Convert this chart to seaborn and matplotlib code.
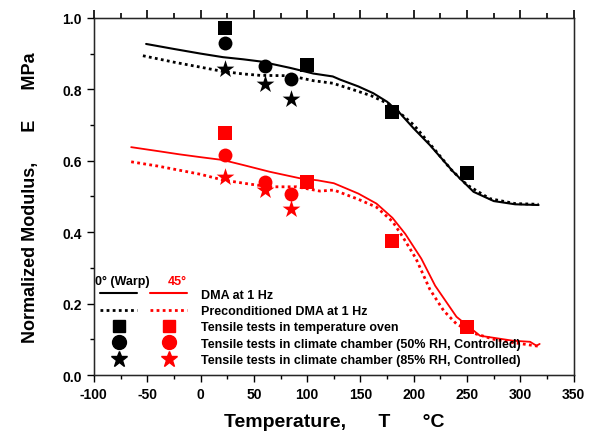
import numpy as np
import pandas as pd
import matplotlib
matplotlib.use("Agg")
import matplotlib.pyplot as plt
import seaborn as sns
from matplotlib.lines import Line2D
from matplotlib.legend_handler import HandlerTuple
from matplotlib.ticker import MultipleLocator

# ---- data ----
warp_dma_T = [-51, -25, 0, 21, 40, 56, 84, 106, 124, 131, 148, 162, 175, 187, 200, 215, 237, 256, 275, 295, 317]
warp_dma_E = [0.927, 0.913, 0.900, 0.890, 0.884, 0.878, 0.860, 0.844, 0.836, 0.827, 0.808, 0.789, 0.765, 0.733,
              0.690, 0.644, 0.569, 0.513, 0.487, 0.478, 0.476]
warp_pre_T = [-54, -25, 0, 21, 40, 56, 84, 106, 124, 144, 160, 178, 200, 221, 235, 250, 271, 295, 317]
warp_pre_E = [0.894, 0.876, 0.862, 0.850, 0.843, 0.839, 0.838, 0.824, 0.817, 0.798, 0.782, 0.757, 0.700,
              0.626, 0.575, 0.532, 0.494, 0.480, 0.478]
d45_dma_T = [-65, -40, -20, 0, 21, 40, 65, 93, 110, 125, 148, 165, 180, 192, 207, 220, 240, 262, 293, 309, 315, 318]
d45_dma_E = [0.638, 0.627, 0.618, 0.610, 0.602, 0.588, 0.569, 0.551, 0.545, 0.537, 0.508, 0.480, 0.440, 0.395,
             0.326, 0.250, 0.163, 0.110, 0.096, 0.093, 0.082, 0.087]
d45_pre_T = [-65, -40, 0, 21, 45, 65, 90, 112, 125, 148, 165, 180, 190, 202, 215, 228, 240, 255, 275, 295, 318]
d45_pre_E = [0.597, 0.585, 0.562, 0.546, 0.535, 0.527, 0.527, 0.515, 0.518, 0.492, 0.470, 0.430, 0.385, 0.326,
             0.240, 0.180, 0.143, 0.118, 0.100, 0.090, 0.080]

oven_T = [23, 100, 180, 250]
warp_oven_E = [0.972, 0.868, 0.736, 0.565]
d45_oven_E = [0.677, 0.541, 0.374, 0.135]
chamber_T = [23, 60, 85]
warp_rh50_E = [0.930, 0.864, 0.829]
warp_rh85_E = [0.857, 0.815, 0.773]
d45_rh50_E = [0.616, 0.541, 0.508]
d45_rh85_E = [0.555, 0.518, 0.466]

x_ticks = [-100, -50, 0, 50, 100, 150, 200, 250, 300, 350]
y_ticks = [0.0, 0.2, 0.4, 0.6, 0.8, 1.0]

legend_labels = ["DMA at 1 Hz", "Preconditioned DMA at 1 Hz", "Tensile tests in temperature oven",
                 "Tensile tests in climate chamber (50% RH, Controlled)",
                 "Tensile tests in climate chamber (85% RH, Controlled)"]

# ---- style ----
sns.set_style("ticks")
plt.rcParams["font.family"] = ["Liberation Sans", "DejaVu Sans"]
plt.rcParams["font.weight"] = "bold"
plt.rcParams["axes.labelweight"] = "bold"
plt.rcParams["axes.unicode_minus"] = False
plt.rcParams["text.color"] = "black"
plt.rcParams["axes.labelcolor"] = "black"
plt.rcParams["xtick.color"] = "black"
plt.rcParams["ytick.color"] = "black"

fig = plt.figure(figsize=(5.94, 4.39), dpi=100)
ax = fig.add_axes([0.158, 0.1435, 0.808, 0.8135])

RED = "#ff0000"
BLK = "#000000"
DOT = (0, (1, 1.2))

def line(T, E, color, ls, lw):
    df = pd.DataFrame({"T": T, "E": E})
    sns.lineplot(data=df, x="T", y="E", ax=ax, color=color, linestyle=ls, linewidth=lw,
                 sort=False, estimator=None)

line(warp_dma_T, warp_dma_E, BLK, "-", 1.5)
line(warp_pre_T, warp_pre_E, BLK, DOT, 2.0)
line(d45_dma_T, d45_dma_E, RED, "-", 1.3)
line(d45_pre_T, d45_pre_E, RED, DOT, 2.0)

def pts(T, E, color, marker, s):
    df = pd.DataFrame({"T": T, "E": E})
    sns.scatterplot(data=df, x="T", y="E", ax=ax, color=color, marker=marker, s=s,
                    edgecolor=color, linewidth=0, zorder=5)

pts(oven_T, warp_oven_E, BLK, "s", 90)
pts(oven_T, d45_oven_E, RED, "s", 90)
pts(chamber_T, warp_rh50_E, BLK, "o", 100)
pts(chamber_T, d45_rh50_E, RED, "o", 100)
pts(chamber_T, warp_rh85_E, BLK, "*", 180)
pts(chamber_T, d45_rh85_E, RED, "*", 180)

ax.set_xlim(-100, 350)
ax.set_ylim(0, 1.0)
ax.set_xticks(x_ticks)
ax.set_xticklabels([str(v) for v in x_ticks])
ax.xaxis.set_minor_locator(MultipleLocator(25))
ax.set_yticks(y_ticks)
ax.set_yticklabels([f"{v:.1f}" for v in y_ticks])
ax.yaxis.set_minor_locator(MultipleLocator(0.1))
ax.tick_params(axis="both", which="both", direction="out", labelsize=10, width=1.0, colors="black")
ax.tick_params(which="major", length=5)
ax.tick_params(which="minor", length=3)
for lab in ax.get_xticklabels() + ax.get_yticklabels():
    lab.set_fontweight("bold")
for sp in ax.spines.values():
    sp.set_visible(True)
    sp.set_linewidth(1.0)
    sp.set_color("black")

# top axis: twin with same limits, ticks only
tw = ax.twiny()
tw.set_xlim(ax.get_xlim())
tw.set_xticks(x_ticks)
tw.xaxis.set_minor_locator(MultipleLocator(25))
tw.tick_params(axis="x", which="both", top=True, bottom=False, labeltop=False, labelbottom=False,
               direction="out", width=1.2, colors="black")
tw.tick_params(axis="x", which="major", length=6)
tw.tick_params(axis="x", which="minor", length=3.5)
tw.tick_params(axis="y", left=False, right=False, labelleft=False, labelright=False)

ax.set_xlabel("Temperature,      T      \u00b0C", fontsize=14, fontweight="bold", labelpad=9)
ax.set_ylabel("Normalized Modulus,      E      MPa", fontsize=13, fontweight="bold", labelpad=17)

# ---- legend ----
h = [
    (Line2D([], [], color=BLK, lw=1.5), Line2D([], [], color=RED, lw=1.5)),
    (Line2D([], [], color=BLK, lw=2, ls=DOT), Line2D([], [], color=RED, lw=2, ls=DOT)),
    (Line2D([], [], color=BLK, marker="s", ls="none", ms=9), Line2D([], [], color=RED, marker="s", ls="none", ms=9)),
    (Line2D([], [], color=BLK, marker="o", ls="none", ms=10), Line2D([], [], color=RED, marker="o", ls="none", ms=10)),
    (Line2D([], [], color=BLK, marker="*", ls="none", ms=12), Line2D([], [], color=RED, marker="*", ls="none", ms=12)),
]
leg = ax.legend(h, legend_labels, handler_map={tuple: HandlerTuple(ndivide=None, pad=1.0)},
                loc="upper left", bbox_to_anchor=(0.0125, 0.242), frameon=False,
                borderpad=0, borderaxespad=0, handlelength=7.0, handletextpad=1.1,
                labelspacing=0.35, prop={"size": 9, "weight": "bold"})

ax.text(0.003, 0.264, "0\u00b0 (Warp)", transform=ax.transAxes, fontsize=9, fontweight="bold",
        color=BLK, va="center", ha="left")
ax.text(0.154, 0.264, "45\u00b0", transform=ax.transAxes, fontsize=9, fontweight="bold",
        color=RED, va="center", ha="left")

fig.savefig("out.png", dpi=100)
